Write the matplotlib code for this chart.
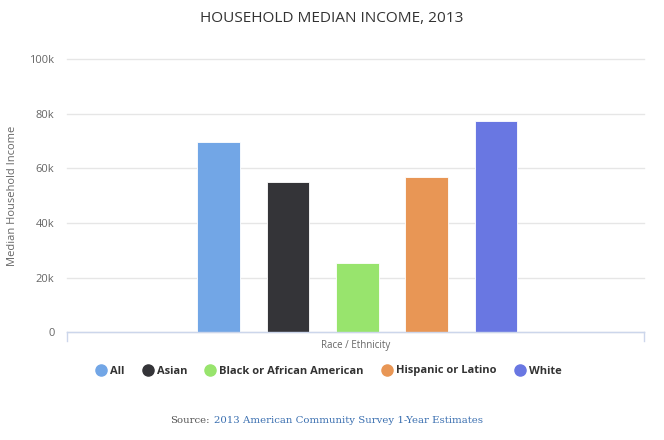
import matplotlib
matplotlib.use("Agg")
import matplotlib.pyplot as plt
from matplotlib.lines import Line2D
import numpy as np

# Data
categories = ["Race / Ethnicity"]
series_names = ["All", "Asian", "Black or African American", "Hispanic or Latino", "White"]
series_values = [69800, 55200, 25400, 56900, 77400]
series_colors = ["#72a6e6", "#343438", "#98e46d", "#e89655", "#6977e2"]
y_ticks = [0, 20000, 40000, 60000, 80000, 100000]
y_tick_labels = ["0", "20k", "40k", "60k", "80k", "100k"]

plt.rcParams['font.family'] = ['Open Sans', 'DejaVu Sans']

W, H = 664, 440
fig = plt.figure(figsize=(W / 100, H / 100), dpi=100)
fig.patch.set_facecolor("white")

ax = fig.add_axes([67 / W, 1 - 332 / H, (644 - 67) / W, (332 - 59.5) / H])

n = len(series_names)
pitch = 69.3 / 577
width = 42.5 / 577
shift = 1.8 / 577
for i, (name, val, col) in enumerate(zip(series_names, series_values, series_colors)):
    ax.bar(0 + (i - (n - 1) / 2) * pitch + shift, val, width=width, color=col,
           edgecolor="white", linewidth=0.6, zorder=3)

ax.set_xlim(-0.5, 0.5)
ax.set_ylim(0, 100000)
ax.set_yticks(y_ticks)
ax.set_yticklabels(y_tick_labels)
ax.set_xticks([])
ax.grid(axis="y", color="#e6e6e6", linewidth=1, zorder=0)
for gl in ax.get_ygridlines():
    gl.set_clip_on(False)
for s in ["top", "right", "left"]:
    ax.spines[s].set_visible(False)
ax.spines["bottom"].set_color("#ccd6eb")
ax.spines["bottom"].set_linewidth(1)
ax.spines["bottom"].set_zorder(4)
ax.tick_params(axis="y", length=0, pad=9, labelsize=8, labelcolor="#666666")

# end tick marks on x axis
for xe in [-0.5, 0.5]:
    ax.plot([xe, xe], [0, -3300], color="#ccd6eb", linewidth=1, clip_on=False, zorder=4)

ax.set_ylabel("Median Household Income", fontsize=8, color="#666666")
ax.yaxis.set_label_coords(-0.085, 0.5)
ax.set_xlabel(categories[0], fontsize=7, color="#666666", labelpad=5.5)

fig.text(0.5, 1 - 18.5 / H, "HOUSEHOLD MEDIAN INCOME, 2013", ha="center", va="center",
         fontsize=11.1, color="#333333")

handles = [Line2D([0], [0], marker="o", linestyle="none", markersize=8,
                  markerfacecolor=c, markeredgecolor=c) for c in series_colors]
leg = fig.legend(handles, series_names, loc="center", bbox_to_anchor=(328 / W, 1 - 371 / H),
                 ncol=n, frameon=False, handletextpad=0.2, columnspacing=1.5,
                 prop={"size": 8, "weight": "bold"}, handlelength=1.2)
for t in leg.get_texts():
    t.set_color("#333333")

fig.text(210 / W, 1 - 420 / H, "Source:", ha="right", va="center", fontsize=7.3,
         family="DejaVu Serif", color="#555555")
fig.text(214 / W, 1 - 420 / H, "2013 American Community Survey 1-Year Estimates",
         ha="left", va="center", fontsize=7.3, family="DejaVu Serif", color="#3a6fb0")

fig.savefig("out.png", dpi=100)
